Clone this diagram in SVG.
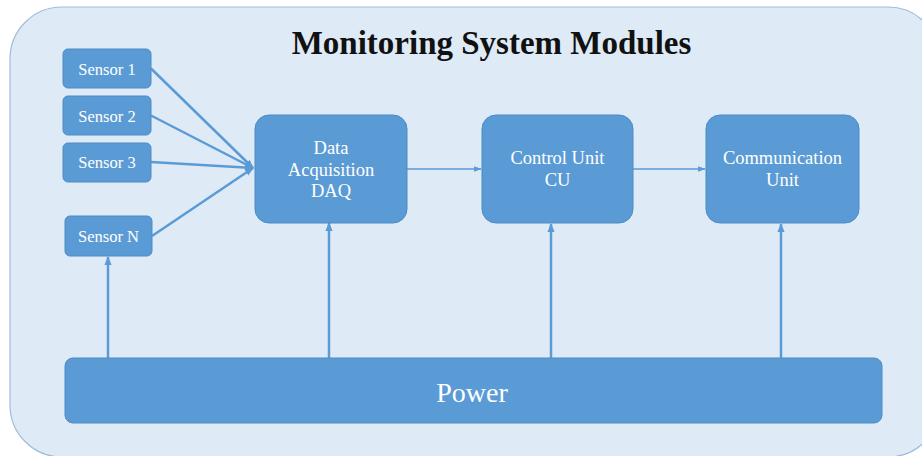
<svg xmlns="http://www.w3.org/2000/svg" width="922" height="456" viewBox="0 0 922 456">
  <style>
    .node { fill: #5b9bd5; stroke: #4c8bc6; stroke-width: 1; }
    .lbl { fill: #ffffff; font-family: "Liberation Serif", "Times New Roman", serif; text-anchor: middle; }
    .sens { font-size: 16.5px; }
    .unit { font-size: 18.5px; }
    .wire { stroke: #5b9bd5; fill: none; }
    .thick { stroke-width: 2.5; }
    .thin { stroke-width: 1.5; }
  </style>
  <defs>
    <marker id="ah" viewBox="0 0 10 10" refX="9" refY="5" markerUnits="userSpaceOnUse" markerWidth="9" markerHeight="9" orient="auto">
      <path d="M0,1 L10,5 L0,9 z" fill="#5b9bd5"/>
    </marker>
    <marker id="ahs" viewBox="0 0 10 10" refX="9" refY="5" markerUnits="userSpaceOnUse" markerWidth="8" markerHeight="8" orient="auto">
      <path d="M0,1.5 L10,5 L0,8.5 z" fill="#5b9bd5"/>
    </marker>
  </defs>

  <rect width="922" height="456" fill="#ffffff"/>
  <!-- panel -->
  <rect x="10" y="7" width="930" height="450" rx="52" ry="52" fill="#deebf7" stroke="#9fbcd9" stroke-width="1.2"/>

  <text x="491.5" y="54" font-family="Liberation Serif, 'Times New Roman', serif" font-size="33" font-weight="bold" text-anchor="middle" fill="#111111">Monitoring System Modules</text>

  <!-- connectors -->
  <g id="connectors">
    <line class="wire thick" x1="151" y1="68.5" x2="253" y2="168" marker-end="url(#ah)"/>
    <line class="wire thick" x1="151" y1="115.5" x2="253" y2="168" marker-end="url(#ah)"/>
    <line class="wire thick" x1="151" y1="162" x2="253" y2="168" marker-end="url(#ah)"/>
    <line class="wire thick" x1="152" y1="236" x2="253" y2="168" marker-end="url(#ah)"/>
    <line class="wire thin" x1="407" y1="169" x2="481" y2="169" marker-end="url(#ahs)"/>
    <line class="wire thin" x1="633" y1="169" x2="705" y2="169" marker-end="url(#ahs)"/>
    <line class="wire thick" x1="108" y1="358" x2="108" y2="257" marker-end="url(#ah)"/>
    <line class="wire thick" x1="329" y1="358" x2="329" y2="223" marker-end="url(#ah)"/>
    <line class="wire thick" x1="551" y1="358" x2="551" y2="224" marker-end="url(#ah)"/>
    <line class="wire thick" x1="781" y1="358" x2="781" y2="224" marker-end="url(#ah)"/>
  </g>

  <g id="sensor1">
    <rect class="node" x="63" y="49" width="88" height="39" rx="5"/>
    <text class="lbl sens" x="107" y="74.5">Sensor 1</text>
  </g>
  <g id="sensor2">
    <rect class="node" x="63" y="96" width="88" height="39" rx="5"/>
    <text class="lbl sens" x="107" y="121.5">Sensor 2</text>
  </g>
  <g id="sensor3">
    <rect class="node" x="63" y="143" width="88" height="39" rx="5"/>
    <text class="lbl sens" x="107" y="168">Sensor 3</text>
  </g>
  <g id="sensorN">
    <rect class="node" x="65" y="216" width="87" height="40" rx="5"/>
    <text class="lbl sens" x="108.5" y="242">Sensor N</text>
  </g>

  <g id="daq">
    <rect class="node" x="255" y="115" width="152" height="108" rx="14"/>
    <text class="lbl unit" x="331" y="154">Data</text>
    <text class="lbl unit" x="331" y="176">Acquisition</text>
    <text class="lbl unit" x="331" y="197">DAQ</text>
  </g>
  <g id="cu">
    <rect class="node" x="482" y="115" width="151" height="108" rx="14"/>
    <text class="lbl unit" x="557.5" y="164">Control Unit</text>
    <text class="lbl unit" x="557.5" y="186">CU</text>
  </g>
  <g id="comm">
    <rect class="node" x="706" y="115" width="153" height="108" rx="14"/>
    <text class="lbl unit" x="782.5" y="164">Communication</text>
    <text class="lbl unit" x="782.5" y="186">Unit</text>
  </g>

  <g id="power">
    <rect class="node" x="65" y="358" width="817" height="65" rx="8"/>
    <text class="lbl" x="472" y="402" font-size="28">Power</text>
  </g>
</svg>
